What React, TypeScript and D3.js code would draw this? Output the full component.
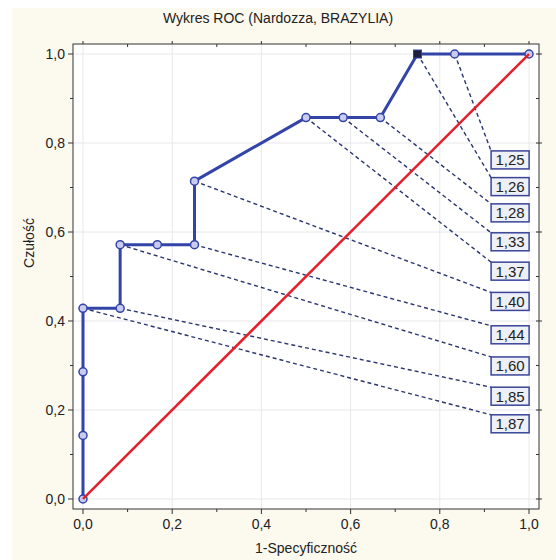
import React from "react";
import * as d3 from "d3";

const fpr = [0, 0, 0, 0, 0.0833, 0.0833, 0.1667, 0.25, 0.25, 0.5, 0.5833, 0.6667, 0.75, 0.8333, 1];
const tpr = [0, 0.1429, 0.2857, 0.4286, 0.4286, 0.5714, 0.5714, 0.5714, 0.7143, 0.8571, 0.8571, 0.8571, 1, 1, 1];
// index of point in the ROC arrays each cutoff label refers to
const labelPoint = [13, 12, 11, 10, 9, 8, 7, 5, 4, 3];
const labelText = ["1,25", "1,26", "1,28", "1,33", "1,37", "1,40", "1,44", "1,60", "1,85", "1,87"];
// label box vertical position (in sensitivity units) and left edge (in 1-spec units)
const labelY = [0.762, 0.702, 0.643, 0.578, 0.512, 0.444, 0.369, 0.299, 0.231, 0.169];
const labelX = 0.915;
const selectedPoint = 12;
const majorTicks = [0, 0.2, 0.4, 0.6, 0.8, 1.0];
const minorTicks = [0.1, 0.3, 0.5, 0.7, 0.9];

const W = 556;
const H = 560;
const L = 73, R = 539, T = 44, B = 509;
const FONT = "'Liberation Sans', Arial, sans-serif";

export default function App() {
  const x = d3.scaleLinear().domain([-0.0224, 1.0224]).range([L, R]);
  const y = d3.scaleLinear().domain([-0.0225, 1.0225]).range([B, T]);
  const fmt = (v: number) => d3.format(".1f")(v).replace(".", ",");
  const pts = fpr.map((f, i) => [f, tpr[i]] as [number, number]);
  const line = d3.line<[number, number]>().x((d) => x(d[0])).y((d) => y(d[1]));
  const boxW = 38, boxH = 18;

  return (
    <svg width={W} height={H} style={{ position: "absolute", left: 0, top: 0 }} fontFamily={FONT}>
      <rect x={0} y={0} width={W} height={H} fill="#ffffff" />
      <rect x={12} y={8} width={W - 12} height={H - 8} fill="#fcf9ef" />
      <text x={278} y={23} textAnchor="middle" fontSize={14} fill="#222">
        Wykres ROC (Nardozza, BRAZYLIA)
      </text>
      <rect x={L} y={T} width={R - L} height={B - T} fill="#ffffff" />
      {/* gridlines */}
      {majorTicks.map((t) => (
        <g key={"g" + t}>
          <line x1={x(t)} x2={x(t)} y1={T} y2={B} stroke="#e8e8ec" strokeWidth={1} />
          <line x1={L} x2={R} y1={y(t)} y2={y(t)} stroke="#e8e8ec" strokeWidth={1} />
        </g>
      ))}
      {/* frame */}
      <rect x={L} y={T} width={R - L} height={B - T} fill="none" stroke="#333" strokeWidth={1} />
      {/* ticks */}
      {majorTicks.map((t) => (
        <g key={"t" + t} stroke="#333" strokeWidth={1}>
          <line x1={x(t)} x2={x(t)} y1={B} y2={B + 5} />
          <line x1={x(t)} x2={x(t)} y1={T} y2={T - 3} />
          <line x1={L} x2={L - 5} y1={y(t)} y2={y(t)} />
          <line x1={R - 3} x2={R + 3} y1={y(t)} y2={y(t)} />
        </g>
      ))}
      {minorTicks.map((t) => (
        <g key={"m" + t} stroke="#333" strokeWidth={1}>
          <line x1={x(t)} x2={x(t)} y1={B} y2={B + 3} />
          <line x1={x(t)} x2={x(t)} y1={T} y2={T + 3} />
          <line x1={L} x2={L - 3} y1={y(t)} y2={y(t)} />
          <line x1={R} x2={R - 3} y1={y(t)} y2={y(t)} />
        </g>
      ))}
      {majorTicks.map((t) => (
        <g key={"l" + t} fontSize={14} fill="#222">
          <text x={x(t)} y={529} textAnchor="middle">{fmt(t)}</text>
          <text x={65} y={y(t) + 5} textAnchor="end">{fmt(t)}</text>
        </g>
      ))}
      <text x={(L + R) / 2} y={553} textAnchor="middle" fontSize={14} fill="#222">
        1-Specyficzność
      </text>
      <text transform={`translate(34,243) rotate(-90)`} textAnchor="middle" fontSize={14} fill="#222">
        Czułość
      </text>
      {/* dashed connectors */}
      {labelPoint.map((pi, i) => (
        <line
          key={"d" + i}
          x1={x(fpr[pi])}
          y1={y(tpr[pi])}
          x2={x(labelX)}
          y2={y(labelY[i]) - boxH / 2}
          stroke="#2b3570"
          strokeWidth={1.4}
          strokeDasharray="4,3"
        />
      ))}
      {/* ROC curve */}
      <path d={line(pts) || ""} fill="none" stroke="#3344a8" strokeWidth={3} strokeLinejoin="round" />
      {pts.map((p, i) =>
        i === selectedPoint ? (
          <rect key={"p" + i} x={x(p[0]) - 4} y={y(p[1]) - 4} width={8} height={8} fill="#1c1f40" stroke="#3344a8" strokeWidth={1} />
        ) : (
          <circle key={"p" + i} cx={x(p[0])} cy={y(p[1])} r={4} fill="#c9cbef" stroke="#3344a8" strokeWidth={1.5} />
        )
      )}
      {/* reference diagonal */}
      <line x1={x(0)} y1={y(0)} x2={x(1)} y2={y(1)} stroke="#e3202b" strokeWidth={2.5} />
      {/* labels */}
      {labelText.map((t, i) => (
        <g key={"b" + i}>
          <rect
            x={x(labelX)}
            y={y(labelY[i]) - boxH / 2}
            width={boxW}
            height={boxH}
            fill="#eef0f8"
            stroke="#3a4598"
            strokeWidth={1.5}
          />
          <text x={x(labelX) + boxW / 2} y={y(labelY[i]) + 5.5} textAnchor="middle" fontSize={15} fill="#222">
            {t}
          </text>
        </g>
      ))}
    </svg>
  );
}
